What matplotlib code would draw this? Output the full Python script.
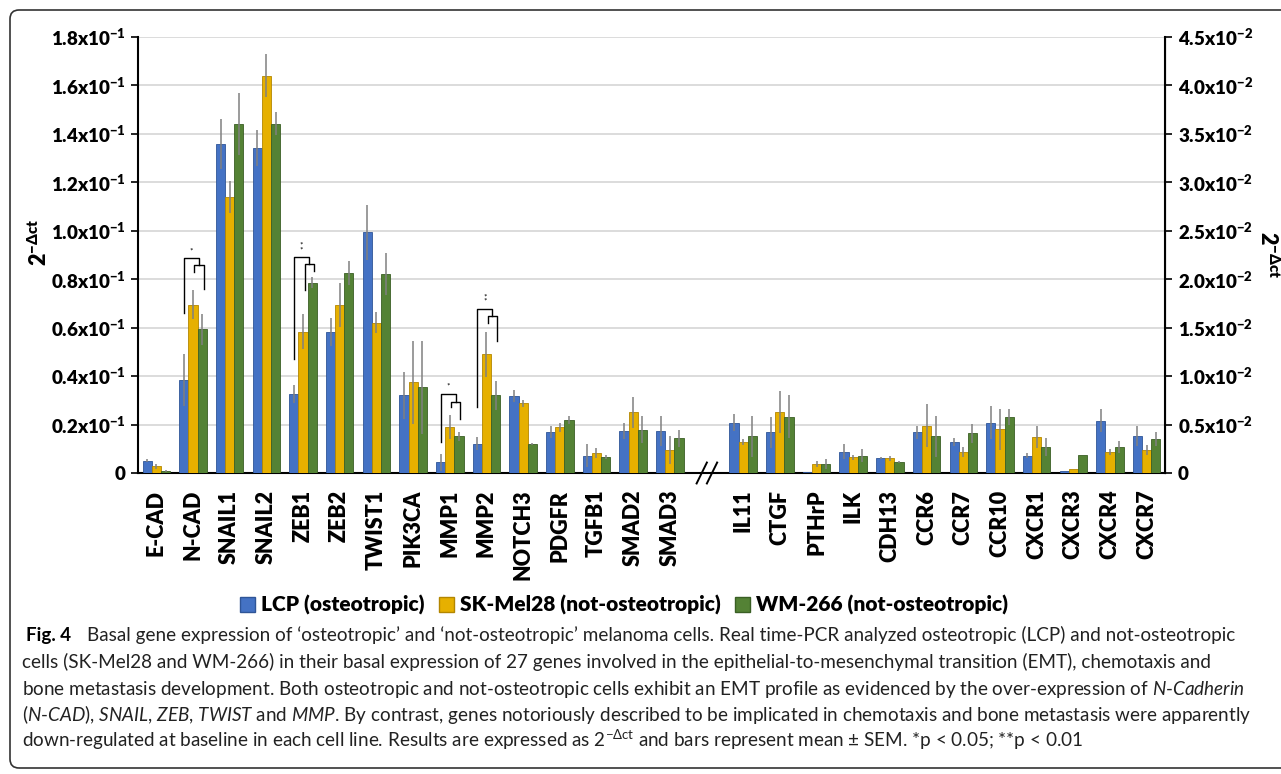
import numpy as np
import matplotlib
matplotlib.use("Agg")
import matplotlib.pyplot as plt
import matplotlib.transforms as mtransforms
from matplotlib.patches import Patch, FancyBboxPatch

# EMT genes (left axis, 2^-dct)
genes_left = ["E-CAD", "N-CAD", "SNAIL1", "SNAIL2", "ZEB1", "ZEB2", "TWIST1", "PIK3CA",
              "MMP1", "MMP2", "NOTCH3", "PDGFR", "TGFB1", "SMAD2", "SMAD3"]
lcp_left = [0.0051, 0.0385, 0.136, 0.1342, 0.0327, 0.0581, 0.0993, 0.032,
            0.0044, 0.0121, 0.0319, 0.0168, 0.0071, 0.0174, 0.0174]
lcp_left_sem = [0.0005, 0.0107, 0.0103, 0.0073, 0.0037, 0.0058, 0.0113, 0.0095,
                0.0034, 0.0026, 0.0024, 0.0024, 0.0048, 0.0032, 0.0062]
skmel_left = [0.0027, 0.0694, 0.114, 0.1641, 0.0584, 0.0694, 0.0621, 0.0374,
              0.019, 0.049, 0.0288, 0.0188, 0.0082, 0.025, 0.0096]
skmel_left_sem = [0.001, 0.006, 0.0065, 0.009, 0.0073, 0.009, 0.0043, 0.0173,
                  0.005, 0.0094, 0.0014, 0.0018, 0.002, 0.0063, 0.0058]
wm_left = [0.0008, 0.0593, 0.1442, 0.1442, 0.0786, 0.0827, 0.0821, 0.0353,
           0.0151, 0.032, 0.012, 0.022, 0.0066, 0.0179, 0.0144]
wm_left_sem = [0.0003, 0.0064, 0.0128, 0.0048, 0.0022, 0.005, 0.0088, 0.0194,
               0.0018, 0.0058, 0.0004, 0.0016, 0.001, 0.0055, 0.0035]

# chemotaxis / bone metastasis genes (right axis, 2^-dct)
genes_right = ["IL11", "CTGF", "PTHrP", "ILK", "CDH13", "CCR6", "CCR7", "CCR10",
               "CXCR1", "CXCR3", "CXCR4", "CXCR7"]
lcp_right = [0.0052, 0.0042, 0.0001, 0.0022, 0.0015, 0.0042, 0.0032, 0.0052,
             0.0018, 0.0002, 0.0054, 0.0038]
lcp_right_sem = [0.0009, 0.0016, 0.0, 0.0008, 0.0001, 0.0007, 0.0004, 0.0017,
                 0.0003, 0.0, 0.0012, 0.001]
skmel_right = [0.0032, 0.0063, 0.0009, 0.0016, 0.0015, 0.0049, 0.0022, 0.0045,
               0.0037, 0.0004, 0.0022, 0.0024]
skmel_right_sem = [0.0003, 0.0022, 0.0003, 0.0003, 0.0003, 0.0022, 0.0005, 0.0021,
                   0.0011, 0.0, 0.0003, 0.0005]
wm_right = [0.0038, 0.0058, 0.0009, 0.0018, 0.0011, 0.0038, 0.0041, 0.0058,
            0.0027, 0.0019, 0.0027, 0.0035]
wm_right_sem = [0.0021, 0.0022, 0.0005, 0.0007, 0.0001, 0.0021, 0.001, 0.0008,
                0.0009, 0.0, 0.0006, 0.0007]

series_names = ["LCP (osteotropic)", "SK-Mel28 (not-osteotropic)", "WM-266 (not-osteotropic)"]

left_ticks = [0, 0.02, 0.04, 0.06, 0.08, 0.10, 0.12, 0.14, 0.16, 0.18]
right_ticks = [0, 0.005, 0.01, 0.015, 0.02, 0.025, 0.03, 0.035, 0.04, 0.045]

# significance brackets: gene, outer top, outer leg bottom, inner top,
# inner left leg bottom, inner right leg bottom, label
sig_brackets = [
    ("N-CAD", 0.0886, 0.066, 0.0859, 0.0831, 0.0758, "*"),
    ("ZEB1", 0.089, 0.047, 0.0863, 0.0755, 0.0835, "**"),
    ("MMP1", 0.0326, 0.013, 0.0295, 0.0272, 0.0223, "*"),
    ("MMP2", 0.0676, 0.0272, 0.0648, 0.0618, 0.0547, "**"),
]

caption_lines = [
    "Basal gene expression of \u2018osteotropic\u2019 and \u2018not-osteotropic\u2019 melanoma cells. "
    "Real time-PCR analyzed osteotropic (LCP) and not-osteotropic",
    "cells (SK-Mel28 and WM-266) in their basal expression of 27 genes involved in the "
    "epithelial-to-mesenchymal transition (EMT), chemotaxis and",
    "bone metastasis development. Both osteotropic and not-osteotropic cells exhibit an EMT "
    "profile as evidenced by the over-expression of $\\mathit{N}$-$\\mathit{Cadherin}$",
    "($\\mathit{N}$-$\\mathit{CAD}$), $\\mathit{SNAIL}$, $\\mathit{ZEB}$, $\\mathit{TWIST}$ and "
    "$\\mathit{MMP}$. By contrast, genes notoriously described to be implicated in chemotaxis "
    "and bone metastasis were apparently",
    "down-regulated at baseline in each cell line. Results are expressed as "
    "$2^{-\\Delta\\mathrm{ct}}$ and bars represent mean \u00b1 SEM. *p < 0.05; **p < 0.01",
]

plt.rcParams["font.family"] = ["Lato", "DejaVu Sans"]
plt.rcParams["mathtext.fontset"] = "custom"
plt.rcParams["mathtext.rm"] = "Lato"
plt.rcParams["mathtext.it"] = "Lato:italic"
plt.rcParams["mathtext.bf"] = "Lato:heavy"

W, H = 1281, 774
fig = plt.figure(figsize=(W / 100, H / 100), dpi=100)
ax = fig.add_axes([138 / W, 1 - 473 / H, (1165 - 138) / W, (473 - 37) / H])
ax2 = ax.twinx()

colors = ["#4472C4", "#E6B000", "#548235"]
edges = ["#2F5597", "#B38600", "#3A5F24"]
bw = 0.25
err_kw = dict(ecolor="#808080", elinewidth=1.1, capsize=0)

x_left = np.arange(len(genes_left))
x_right = np.arange(len(genes_right)) + len(genes_left) + 1

left_vals = [(lcp_left, lcp_left_sem), (skmel_left, skmel_left_sem), (wm_left, wm_left_sem)]
right_vals = [(lcp_right, lcp_right_sem), (skmel_right, skmel_right_sem), (wm_right, wm_right_sem)]
for k in range(3):
    off = (k - 1) * bw
    ax.bar(x_left + off, left_vals[k][0], bw, yerr=left_vals[k][1], color=colors[k],
           edgecolor=edges[k], linewidth=0.6, error_kw=err_kw, zorder=3)
    ax2.bar(x_right + off, right_vals[k][0], bw, yerr=right_vals[k][1], color=colors[k],
            edgecolor=edges[k], linewidth=0.6, error_kw=err_kw, zorder=3)

ax.set_xlim(-0.5, len(genes_left) + len(genes_right) + 0.5)
ax.set_ylim(0, 0.18)
ax2.set_ylim(0, 0.045)


def sci_label(v, scale, exp):
    if abs(v) < 1e-12:
        return "0"
    return f"{v * scale:.1f}x10" + r"$^{\mathbf{-" + exp + "}}$"


ax.set_yticks(left_ticks, [sci_label(v, 10, "1") for v in left_ticks],
              fontsize=13.5, fontweight="heavy")
ax2.set_yticks(right_ticks, [sci_label(v, 100, "2") for v in right_ticks],
               fontsize=13.5, fontweight="heavy")
ax.yaxis.grid(True, color="#d9d9d9", linewidth=1.3)
ax.set_axisbelow(True)

ax.set_xticks(list(x_left) + list(x_right))
ax.set_xticklabels(genes_left + genes_right, rotation=90, fontsize=15.5, fontweight="heavy")
ax.tick_params(axis="x", length=0, pad=12)
ax.tick_params(axis="y", length=5, width=1.2, pad=4)
ax2.tick_params(axis="y", length=5, width=1.2, pad=4)

ax.spines["top"].set_visible(False)
for s in ["top", "left", "bottom"]:
    ax2.spines[s].set_visible(False)
for s in ["left", "bottom"]:
    ax.spines[s].set_linewidth(1.5)
ax2.spines["right"].set_linewidth(1.5)

ax.set_ylabel(r"2$^{\mathbf{-\Delta ct}}$", fontsize=15.5, fontweight="heavy")
ax.yaxis.set_label_coords(-0.085, 0.53)
ax2.set_ylabel(r"2$^{\mathbf{-\Delta ct}}$", fontsize=15.5, fontweight="heavy", rotation=270, va="center")
ax2.yaxis.set_label_coords(1.1, 0.5)

# significance brackets
for gene, o_top, o_bot, i_top, i_lbot, i_rbot, lab in sig_brackets:
    g = genes_left.index(gene)
    xl, xm, xr = g - bw, g + 0.04, g + bw + 0.04
    xmid = (xm + xr) / 2
    ax.plot([xl, xl, xmid, xmid], [o_bot, o_top, o_top, i_top], color="black", lw=1.0, zorder=4)
    ax.plot([xm, xm, xr, xr], [i_lbot, i_top, i_top, i_rbot], color="black", lw=1.0, zorder=4)
    star = "*" if lab == "*" else "*\n*"
    ax.text((xl + xmid) / 2, o_top + 0.0018, star, ha="center", va="bottom", fontsize=6,
            linespacing=0.55, zorder=4)

# axis break between the two gene sets
gap = len(genes_left)
trans = mtransforms.blended_transform_factory(ax.transData, ax.transAxes)
for dx in (-0.13, 0.15):
    ax.plot([gap + dx - 0.14, gap + dx + 0.14], [-0.024, 0.024], transform=trans,
            color="black", lw=1.4, clip_on=False, zorder=5)

handles = [Patch(facecolor=colors[k], edgecolor=edges[k]) for k in range(3)]
fig.legend(handles, series_names, loc="center", bbox_to_anchor=(624 / W, 1 - 605 / H),
           ncol=3, frameon=False, prop=dict(size=15, weight="heavy"),
           handlelength=0.7, handleheight=0.7, handletextpad=0.3, columnspacing=0.7)

# caption
fig.text(26 / W, 1 - 641 / H, "Fig. 4", fontsize=13.5, fontweight="bold", va="baseline")
base_y = [641, 668, 695, 721, 747]
for i, line in enumerate(caption_lines):
    x0 = 87 if i == 0 else 22
    fig.text(x0 / W, 1 - base_y[i] / H, line, fontsize=13.6, va="baseline", color="#222222")

frame = FancyBboxPatch((10, H - 768), 1320, 758, boxstyle="round,pad=0,rounding_size=9",
                       transform=mtransforms.IdentityTransform(), facecolor="none",
                       edgecolor="#333333", linewidth=1.2)
fig.add_artist(frame)

fig.savefig("out.png", dpi=100)
